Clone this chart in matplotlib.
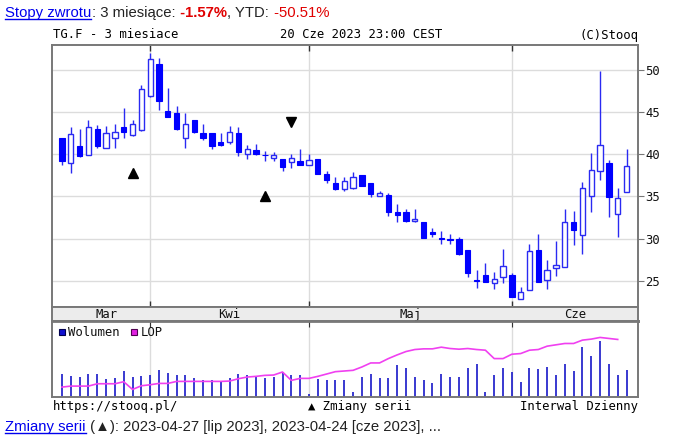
import matplotlib
matplotlib.use("Agg")
import matplotlib.pyplot as plt
import numpy as np
from matplotlib.patches import Rectangle
from matplotlib.lines import Line2D

W, H = 675, 444

# %% Data (TG.F, daily, 20 Mar - 20 Jun 2023)
opens = [42.0, 39.0, 41.0, 39.9, 43.0, 40.8, 41.9, 43.2, 42.3, 42.9,
         46.9, 50.8, 45.1, 44.9, 42.0, 44.1, 42.5, 42.5, 41.5, 41.5,
         42.6, 40.0, 40.5, 39.9, 39.6, 39.5, 39.1, 39.2, 38.8, 39.5,
         37.7, 36.6, 35.9, 36.0, 37.6, 36.6, 35.0, 35.2, 33.1, 33.1,
         32.1, 32.0, 30.8, 30.1, 29.9, 29.9, 28.6, 25.1, 25.7, 24.7,
         25.4, 25.7, 22.8, 23.9, 28.6, 25.1, 26.5, 26.6, 32.0, 30.4,
         35.0, 38.0, 39.0, 32.9, 35.5]
highs = [42.0, 43.2, 43.0, 44.1, 43.5, 43.4, 43.6, 45.5, 44.1, 48.3,
         52.0, 51.5, 47.9, 45.8, 44.9, 44.1, 43.6, 42.5, 42.5, 43.4,
         43.2, 41.1, 41.2, 40.4, 40.3, 39.5, 40.0, 40.7, 40.1, 39.5,
         38.0, 37.3, 37.3, 37.9, 37.6, 36.6, 35.7, 35.4, 34.1, 33.5,
         33.5, 32.0, 31.2, 30.9, 30.5, 30.2, 28.6, 26.3, 27.1, 26.0,
         28.8, 25.9, 24.2, 29.4, 30.6, 27.4, 29.7, 33.5, 33.3, 36.7,
         40.2, 49.9, 39.3, 36.0, 40.7]
lows = [38.8, 37.8, 39.7, 39.9, 40.8, 40.8, 40.8, 42.0, 42.2, 42.8,
        46.8, 45.3, 44.4, 42.9, 40.8, 42.6, 41.7, 40.7, 41.0, 41.2,
        39.8, 39.5, 39.9, 39.2, 39.2, 38.05, 38.4, 38.8, 38.8, 37.7,
        36.6, 35.8, 35.6, 35.9, 36.2, 34.9, 35.0, 32.7, 32.0, 32.0,
        32.0, 30.1, 30.2, 29.4, 29.4, 28.0, 25.4, 24.1, 24.8, 24.0,
        24.7, 23.0, 22.8, 23.9, 24.8, 24.0, 25.6, 26.6, 29.2, 28.2,
        33.1, 37.0, 32.6, 30.2, 35.5]
closes = [39.2, 42.4, 39.8, 43.2, 41.0, 42.6, 42.7, 42.7, 43.6, 47.8,
          51.3, 46.4, 44.5, 43.0, 43.6, 42.7, 41.9, 41.0, 41.1, 42.7,
          40.3, 40.6, 40.0, 39.9, 39.95, 38.5, 39.6, 38.8, 39.3, 37.7,
          37.0, 35.9, 36.9, 37.3, 36.3, 35.3, 35.4, 33.1, 32.75, 32.1,
          32.35, 30.1, 30.5, 30.0, 29.8, 28.2, 25.9, 25.0, 24.8, 25.2,
          26.8, 23.0, 23.6, 28.5, 24.8, 26.3, 26.9, 32.0, 31.0, 36.0,
          38.2, 41.1, 34.9, 34.8, 38.6]

# volume and open interest (LOP), relative units
volume = [68, 62, 58, 66, 66, 51, 56, 75, 58, 60,
          63, 78, 71, 65, 63, 55, 48, 48, 42, 55,
          66, 63, 58, 55, 58, 73, 65, 65, 8, 51,
          48, 48, 48, 12, 58, 68, 55, 55, 95, 85,
          58, 48, 39, 68, 58, 58, 84, 98, 12, 65,
          84, 72, 42, 84, 81, 88, 65, 98, 75, 148,
          121, 165, 96, 65, 78]
lop = [28, 31, 31, 31, 38, 38, 38, 44, 21, 32,
       35, 39, 39, 45, 45, 45, 45, 45, 45, 46,
       53, 58, 60, 63, 64, 73, 48, 54, 54, 60,
       67, 74, 76, 78, 88, 100, 100, 113, 124, 134,
       140, 142, 142, 147, 143, 141, 143, 140, 138, 113,
       113, 126, 128, 138, 140, 150, 154, 158, 158, 168,
       171, 176, 173, 170]

months = ["Mar", "Kwi", "Maj", "Cze"]
month_starts = [10, 28, 51]  # index of first session of Kwi, Maj, Cze

# series change markers (index, price)
roll_up = [(8, 37.8), (23, 35.1)]
roll_down = [(26, 43.9)]

# %% Figure
mono = ["DejaVu Sans Mono", "DejaVu Sans"]
sans = ["Liberation Sans", "DejaVu Sans"]
edge = "#787878"
gridc = "#dcdcdc"
blue = "#0000ff"
line_blue = "#2a2af2"

fig = plt.figure(figsize=(W / 100, H / 100), dpi=100)
fig.patch.set_facecolor("white")


def axes_px(x0, y0, x1, y1):
    return fig.add_axes([x0 / W, 1 - y1 / H, (x1 - x0) / W, (y1 - y0) / H])


n = len(closes)
x = np.arange(n)
xmin, xmax = -1.13, 65.3

ax = axes_px(52, 45, 638, 307)
ax.set_xlim(xmin, xmax)
ax.set_ylim(21.87, 53.0)

o = np.array(opens)
c = np.array(closes)
up = c > o
ax.vlines(x, lows, highs, color=line_blue, lw=1.0, zorder=2)
body_lo = np.minimum(o, c)
body_h = np.maximum(np.abs(c - o), 0.08)
ax.bar(x[~up], body_h[~up], bottom=body_lo[~up], width=0.6,
       color=blue, edgecolor=blue, lw=0.8, zorder=3)
ax.bar(x[up], body_h[up], bottom=body_lo[up], width=0.6,
       color="white", edgecolor=line_blue, lw=1.0, zorder=3)

for xi, yi in roll_up:
    ax.plot(xi, yi, marker="^", color="black", ms=6.5, zorder=4)
for xi, yi in roll_down:
    ax.plot(xi, yi, marker="v", color="black", ms=6.5, zorder=4)

ax.set_xticks(month_starts)
ax.set_xticklabels([])
ax.tick_params(axis="x", direction="in", length=4, top=True, bottom=True,
               color="#333333", width=1)
ax.yaxis.tick_right()
ax.set_yticks(range(25, 51, 5))
ax.tick_params(axis="y", direction="out", length=4, pad=1, color=edge,
               labelsize=8.8, labelcolor="#111111")
for lab in ax.get_yticklabels():
    lab.set_family(mono)
ax.grid(True, color=gridc, lw=1.0, zorder=0)
ax.set_axisbelow(True)
for s in ax.spines.values():
    s.set_color(edge)
    s.set_linewidth(1.4)

# month band
band = axes_px(52, 307, 638, 321)
band.set_facecolor("#ececec")
band.set_xlim(xmin, xmax)
band.set_ylim(0, 1)
band.set_xticks([])
band.set_yticks([])
for s in band.spines.values():
    s.set_color(edge)
    s.set_linewidth(1.4)
band.spines["bottom"].set_linewidth(2)
bounds = [0] + month_starts + [xmax]
for i, m in enumerate(months):
    band.text((bounds[i] + bounds[i + 1]) / 2, 0.45, m, ha="center", va="center",
              family=mono, fontsize=8.8, color="#111111")

# volume panel
vax = axes_px(52, 321, 638, 396.5)
vax.set_xlim(xmin, xmax)
vax.set_ylim(0, 225)
vax.vlines(x, 0, volume, color="#1818c8", lw=1.2, zorder=2)
vax.set_xticks(month_starts)
vax.set_xticklabels([])
vax.set_yticks([])
vax.tick_params(axis="x", direction="in", length=4, top=True, bottom=False,
                color="#333333")
vax.grid(True, axis="x", color=gridc, lw=1.0, zorder=0)
vax.set_axisbelow(True)
for s in vax.spines.values():
    s.set_color(edge)
    s.set_linewidth(1.4)
vax.spines["top"].set_linewidth(2)

lax = vax.twinx()
lax.set_ylim(0, 225)
lax.plot(x[:len(lop)], lop, color="#f040f0", lw=1.2)
lax.axis("off")

# legend of volume panel
fig.patches.append(Rectangle((58.5 / W, 1 - 335 / H), 6 / W, 6 / H, transform=fig.transFigure,
                             facecolor="#1010d0", edgecolor="#000050", lw=0.8))
fig.text(68.5 / W, 1 - 332 / H, "Wolumen", family=mono, fontsize=8.8, va="center", ha="left",
         color="#111111")
fig.patches.append(Rectangle((131 / W, 1 - 335 / H), 6 / W, 6 / H, transform=fig.transFigure,
                             facecolor="#e020e0", edgecolor="#500050", lw=0.8))
fig.text(141 / W, 1 - 332 / H, "LOP", family=mono, fontsize=8.8, va="center", ha="left",
         color="#111111")

# chart texts (monospace)
fig.text(53 / W, 1 - 35 / H, "TG.F - 3 miesiace", family=mono, fontsize=8.8, va="center")
fig.text(361 / W, 1 - 35 / H, "20 Cze 2023 23:00 CEST", family=mono, fontsize=8.8,
         va="center", ha="center")
fig.text(638 / W, 1 - 35 / H, "(C)Stooq", family=mono, fontsize=8.8, va="center", ha="right")
fig.text(53 / W, 1 - 406 / H, "https://stooq.pl/", family=mono, fontsize=8.8, va="center")
fig.text(308 / W, 1 - 406 / H, "\u25b2 Zmiany serii", family=mono, fontsize=8.8, va="center")
fig.text(638 / W, 1 - 406 / H, "Interwal Dzienny", family=mono, fontsize=8.8, va="center",
         ha="right")

# html-like lines above and below the chart
renderer = fig.canvas.get_renderer()


def put_parts(x0, base_y, parts, size=10.7):
    xpos = x0
    for text, color, weight, link in parts:
        t = fig.text(xpos / W, 1 - base_y / H, text, color=color, fontweight=weight,
                     family=sans, fontsize=size, va="baseline", ha="left")
        bb = t.get_window_extent(renderer)
        if link:
            yy = 1 - (base_y + 2) / H
            fig.lines.append(Line2D([bb.x0 / W, bb.x1 / W], [yy, yy], color=color, lw=1,
                                    transform=fig.transFigure))
        xpos = bb.x1 + 0.5


put_parts(5, 17, [
    ("Stopy zwrotu", "#0000ee", "normal", True),
    (": 3 miesi\u0105ce:", "#222222", "normal", False),
    (" -1.57%", "#e00000", "bold", False),
    (", YTD:", "#222222", "normal", False),
    (" -50.51%", "#e00000", "normal", False),
])
put_parts(5, 431, [
    ("Zmiany serii", "#0000ee", "normal", True),
    (" (\u25b2): 2023-04-27 [lip 2023], 2023-04-24 [cze 2023], ...", "#222222", "normal", False),
])

fig.savefig("out.png", dpi=100)
